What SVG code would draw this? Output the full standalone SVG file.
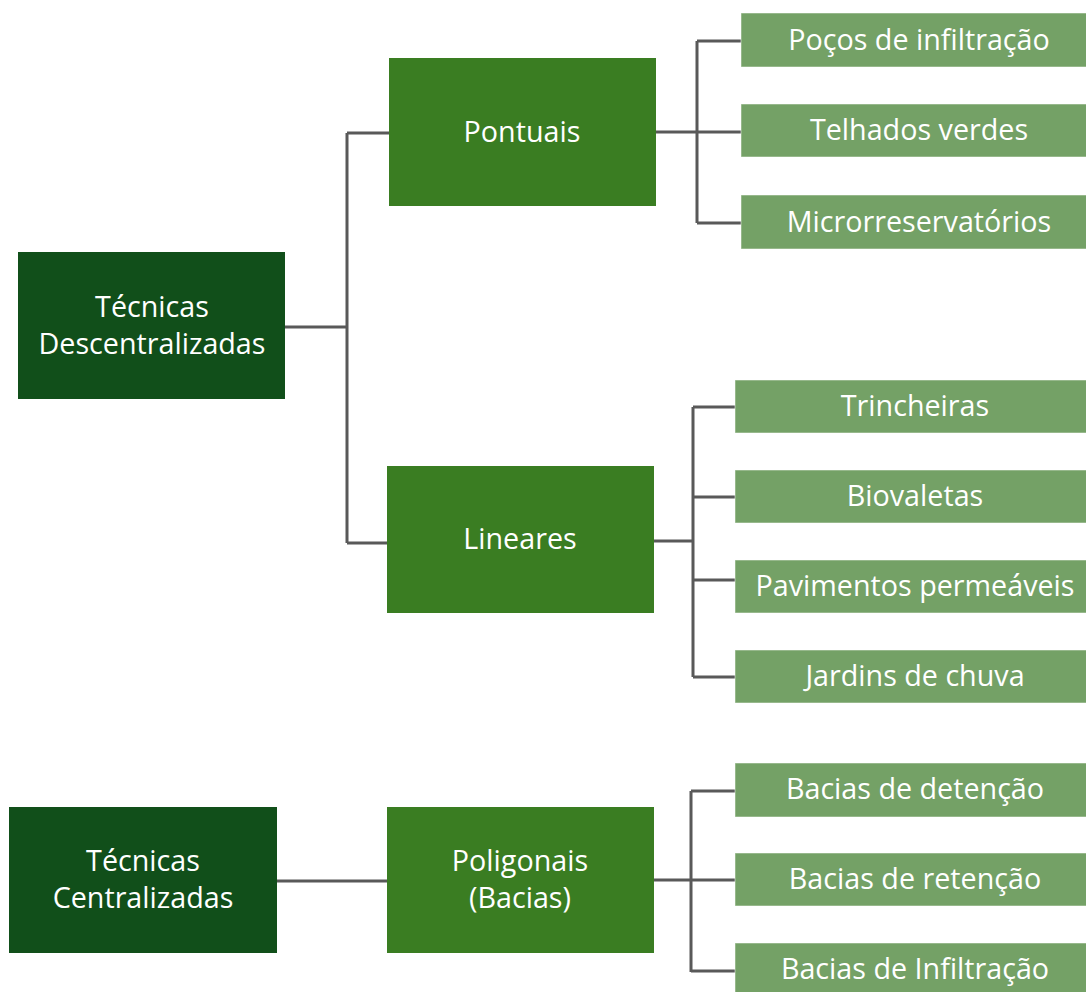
<svg xmlns="http://www.w3.org/2000/svg" width="1086" height="992" viewBox="0 0 1086 992">
<style>
  .dark { fill: #114F1A; }
  .mid { fill: #3A7D22; }
  .light { fill: #74A166; stroke: #ffffff; stroke-opacity: 0.5; stroke-width: 1; }
  text { font-family: "Open Sans", "Liberation Sans", sans-serif; font-size: 28.7px; fill: #ffffff; text-anchor: middle; }
  .conn { fill: none; stroke: #595959; stroke-width: 3; }
</style>
<rect width="1086" height="992" fill="#ffffff"/>
<g id="connectors">
  <path class="conn" d="M285 327 H347 M347 133 V543 M347 133 H389 M347 543 H387"/>
  <path class="conn" d="M656 132 H741 M697 41 V223 M697 41 H741 M697 223 H741"/>
  <path class="conn" d="M654 541 H693 M693 407 V677 M693 407 H735 M693 497 H735 M693 580 H735 M693 677 H735"/>
  <path class="conn" d="M277 881 H387"/>
  <path class="conn" d="M654 880 H735 M691 791 V972 M691 791 H735 M691 971 H735"/>
</g>
<g id="tecnicas-descentralizadas">
  <rect class="dark" x="18" y="252" width="267" height="147"/>
  <text x="152" y="317">Técnicas</text>
  <text x="152" y="354">Descentralizadas</text>
</g>
<g id="tecnicas-centralizadas">
  <rect class="dark" x="9" y="807" width="268" height="146"/>
  <text x="143" y="871">Técnicas</text>
  <text x="143" y="908">Centralizadas</text>
</g>
<g id="pontuais">
  <rect class="mid" x="389" y="58" width="267" height="148"/>
  <text x="522" y="142">Pontuais</text>
</g>
<g id="lineares">
  <rect class="mid" x="387" y="466" width="267" height="147"/>
  <text x="520" y="549">Lineares</text>
</g>
<g id="poligonais">
  <rect class="mid" x="387" y="807" width="267" height="146"/>
  <text x="520" y="871">Poligonais</text>
  <text x="520" y="908">(Bacias)</text>
</g>
<g id="pocos">
  <rect class="light" x="741" y="13" width="357" height="54"/>
  <text x="919" y="50">Poços de infiltração</text>
</g>
<g id="telhados">
  <rect class="light" x="741" y="104" width="357" height="53"/>
  <text x="919" y="140">Telhados verdes</text>
</g>
<g id="microrreservatorios">
  <rect class="light" x="741" y="195" width="357" height="54"/>
  <text x="919" y="232">Microrreservatórios</text>
</g>
<g id="trincheiras">
  <rect class="light" x="735" y="380" width="360" height="53"/>
  <text x="915" y="416">Trincheiras</text>
</g>
<g id="biovaletas">
  <rect class="light" x="735" y="470" width="360" height="53"/>
  <text x="915" y="506">Biovaletas</text>
</g>
<g id="pavimentos">
  <rect class="light" x="735" y="560" width="360" height="53"/>
  <text x="915" y="596">Pavimentos permeáveis</text>
</g>
<g id="jardins">
  <rect class="light" x="735" y="650" width="360" height="53"/>
  <text x="915" y="686">Jardins de chuva</text>
</g>
<g id="bacias-detencao">
  <rect class="light" x="735" y="763" width="360" height="54"/>
  <text x="915" y="799">Bacias de detenção</text>
</g>
<g id="bacias-retencao">
  <rect class="light" x="735" y="853" width="360" height="53"/>
  <text x="915" y="889">Bacias de retenção</text>
</g>
<g id="bacias-infiltracao">
  <rect class="light" x="735" y="943" width="360" height="60"/>
  <text x="915" y="979">Bacias de Infiltração</text>
</g>
</svg>
